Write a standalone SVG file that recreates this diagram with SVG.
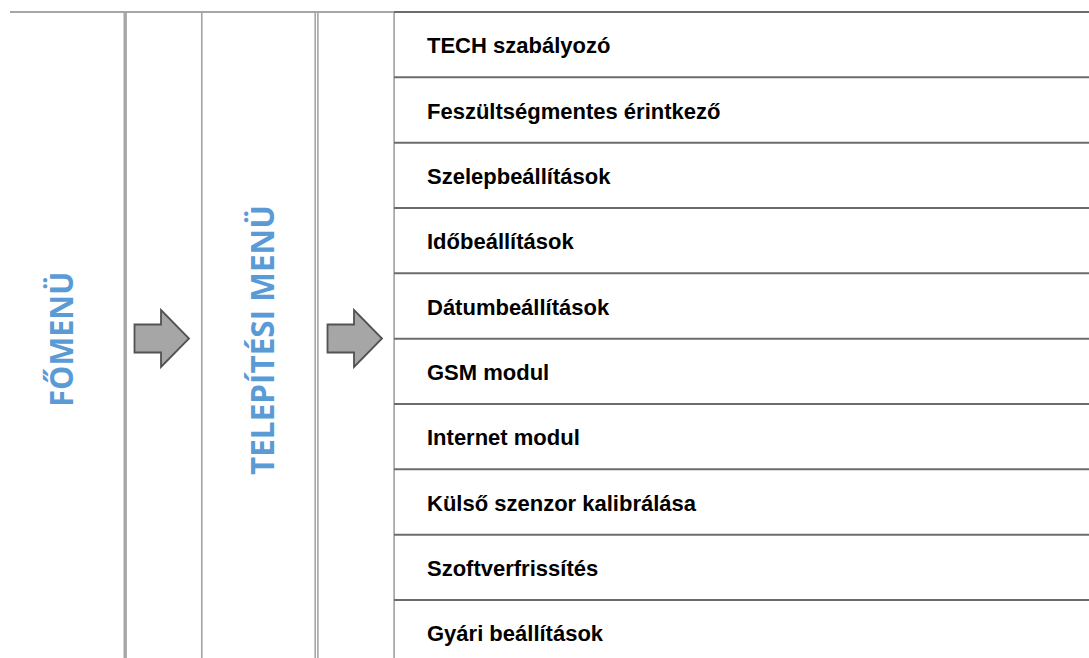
<svg xmlns="http://www.w3.org/2000/svg" width="1089" height="658" viewBox="0 0 1089 658">
  <style>
    .bg { fill: #ffffff; }
    .grid { stroke: #a6a6a6; fill: none; }
    .row { stroke: #6b6b6b; stroke-width: 1.9; fill: none; }
    .item { font-family: "Liberation Sans", Arial, sans-serif; font-weight: bold; font-size: 22px; fill: #000000; }
    .title { font-family: "Open Sans", "Liberation Sans", sans-serif; font-weight: bold; font-size: 33px; fill: #5b9bd5; text-anchor: middle; }
    .arrow { fill: #a6a6a6; stroke: #525252; stroke-width: 1.8; stroke-linejoin: miter; }
  </style>
  <rect class="bg" x="0" y="0" width="1089" height="658"/>

  <g id="connectors">
    <path class="arrow" d="M134.5,324.5 H161 V310 L189,338.5 L161,367 V352.5 H134.5 Z"/>
    <path class="arrow" d="M327.5,324.5 H354 V310 L382,338.5 L354,367 V352.5 H327.5 Z"/>
  </g>

  <g id="frame">
    <line class="grid" x1="10" y1="12" x2="394" y2="12" stroke-width="1.8"/>
    <line class="grid" x1="125.2" y1="12" x2="125.2" y2="658" stroke-width="3.4"/>
    <line class="grid" x1="201.8" y1="12" x2="201.8" y2="658" stroke-width="1.7"/>
    <line class="grid" x1="315.2" y1="12" x2="315.2" y2="658" stroke-width="1.6"/>
    <line class="grid" x1="317.9" y1="12" x2="317.9" y2="658" stroke-width="1.6"/>
    <line class="grid" x1="394.1" y1="12" x2="394.1" y2="658" stroke-width="1.7"/>
  </g>

  <g id="fomenu">
    <text class="title" transform="translate(73,339.2) rotate(-90)" x="0" y="0" textLength="135" lengthAdjust="spacingAndGlyphs">FŐMENÜ</text>
  </g>

  <g id="telepitesi-menu">
    <text class="title" transform="translate(273.5,340) rotate(-90)" x="0" y="0" textLength="270" lengthAdjust="spacingAndGlyphs">TELEPÍTÉSI MENÜ</text>
  </g>

  <g id="menu-list">
    <line class="row" x1="394" y1="12" x2="1089" y2="12"/>
    <g id="item-1">
      <text class="item" x="427" y="53.3">TECH szabályozó</text>
      <line class="row" x1="394" y1="77.3" x2="1089" y2="77.3"/>
    </g>
    <g id="item-2">
      <text class="item" x="427" y="118.6">Feszültségmentes érintkező</text>
      <line class="row" x1="394" y1="142.7" x2="1089" y2="142.7"/>
    </g>
    <g id="item-3">
      <text class="item" x="427" y="184">Szelepbeállítások</text>
      <line class="row" x1="394" y1="208" x2="1089" y2="208"/>
    </g>
    <g id="item-4">
      <text class="item" x="427" y="249.3">Időbeállítások</text>
      <line class="row" x1="394" y1="273.3" x2="1089" y2="273.3"/>
    </g>
    <g id="item-5">
      <text class="item" x="427" y="314.6">Dátumbeállítások</text>
      <line class="row" x1="394" y1="338.7" x2="1089" y2="338.7"/>
    </g>
    <g id="item-6">
      <text class="item" x="427" y="380">GSM modul</text>
      <line class="row" x1="394" y1="404" x2="1089" y2="404"/>
    </g>
    <g id="item-7">
      <text class="item" x="427" y="445.3">Internet modul</text>
      <line class="row" x1="394" y1="469.3" x2="1089" y2="469.3"/>
    </g>
    <g id="item-8">
      <text class="item" x="427" y="510.6">Külső szenzor kalibrálása</text>
      <line class="row" x1="394" y1="534.7" x2="1089" y2="534.7"/>
    </g>
    <g id="item-9">
      <text class="item" x="427" y="576">Szoftverfrissítés</text>
      <line class="row" x1="394" y1="600" x2="1089" y2="600"/>
    </g>
    <g id="item-10">
      <text class="item" x="427" y="641.3">Gyári beállítások</text>
    </g>
  </g>
</svg>
